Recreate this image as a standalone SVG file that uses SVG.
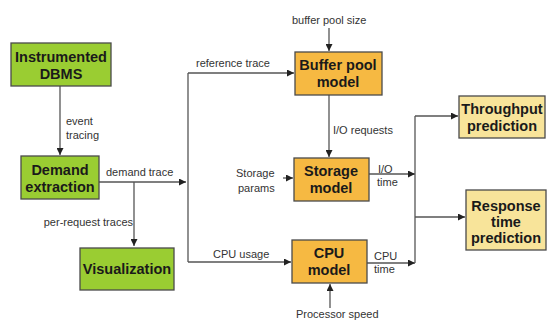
<svg xmlns="http://www.w3.org/2000/svg" width="547" height="321" viewBox="0 0 547 321">
<defs>
<marker id="ah" viewBox="0 0 10 10" refX="10" refY="5" markerWidth="7" markerHeight="7" markerUnits="userSpaceOnUse" orient="auto">
<path d="M0,0 L10,5 L0,10 z" fill="#222"/>
</marker>
<style>
.box{stroke:#4a4a4a;stroke-width:1.3}
.g{fill:#9acd32}
.o{fill:#f6b942}
.y{fill:#f8e49a}
.t{font-family:"Liberation Sans",Arial,sans-serif;font-weight:bold;font-size:14.5px;fill:#1a1a1a;text-anchor:middle}
.l{font-family:"Liberation Sans",Arial,sans-serif;font-size:11px;fill:#333}
.c{fill:none;stroke:#555;stroke-width:1.3}
.a{marker-end:url(#ah)}
</style>
</defs>
<rect width="547" height="321" fill="#fff"/>
<g id="connectors">
<path class="c a" d="M60,86 V155"/>
<path class="c a" d="M99,182 H186"/>
<path class="c a" d="M134,182 V246"/>
<path class="c" d="M188,73 V262"/>
<path class="c a" d="M188,73 H294"/>
<path class="c a" d="M188,262 H291"/>
<path class="c a" d="M329,28 V51"/>
<path class="c a" d="M329,95 V157"/>
<path class="c a" d="M283,178 H293"/>
<path class="c a" d="M369,174 H415"/>
<path class="c a" d="M367,263 H415"/>
<path class="c a" d="M330,308 V284"/>
<path class="c" d="M415,116 V263"/>
<path class="c a" d="M415,116 H458"/>
<path class="c a" d="M415,217 H465"/>
</g>
<g id="labels">
<text class="l" x="66" y="125">event</text>
<text class="l" x="66" y="139">tracing</text>
<text class="l" x="106" y="176">demand trace</text>
<text class="l" x="133" y="226" text-anchor="end">per-request traces</text>
<text class="l" x="196" y="67">reference trace</text>
<text class="l" x="213" y="258">CPU usage</text>
<text class="l" x="292" y="24">buffer pool size</text>
<text class="l" x="333" y="134">I/O requests</text>
<text class="l" x="236" y="177">Storage</text>
<text class="l" x="238" y="192">params</text>
<text class="l" x="378" y="173">I/O</text>
<text class="l" x="377" y="186">time</text>
<text class="l" x="374" y="260">CPU</text>
<text class="l" x="374" y="273">time</text>
<text class="l" x="296" y="318">Processor speed</text>
</g>
<g id="instrumented-dbms">
<rect class="box g" x="11" y="43" width="100" height="43"/>
<text class="t" x="61" y="62">Instrumented</text>
<text class="t" x="61" y="79">DBMS</text>
</g>
<g id="demand-extraction">
<rect class="box g" x="21" y="156" width="78" height="43"/>
<text class="t" x="60" y="175">Demand</text>
<text class="t" x="60" y="192">extraction</text>
</g>
<g id="visualization">
<rect class="box g" x="80" y="248" width="94" height="42"/>
<text class="t" x="127" y="274">Visualization</text>
</g>
<g id="buffer-pool-model">
<rect class="box o" x="295" y="52" width="87" height="43"/>
<text class="t" x="338" y="70">Buffer pool</text>
<text class="t" x="338" y="87">model</text>
</g>
<g id="storage-model">
<rect class="box o" x="294" y="158" width="75" height="43"/>
<text class="t" x="331" y="176">Storage</text>
<text class="t" x="331" y="193">model</text>
</g>
<g id="cpu-model">
<rect class="box o" x="292" y="240" width="75" height="43"/>
<text class="t" x="329" y="258">CPU</text>
<text class="t" x="329" y="275">model</text>
</g>
<g id="throughput-prediction">
<rect class="box y" x="459" y="96" width="86" height="42"/>
<text class="t" x="502" y="114">Throughput</text>
<text class="t" x="502" y="131">prediction</text>
</g>
<g id="response-time-prediction">
<rect class="box y" x="466" y="190" width="80" height="60"/>
<text class="t" x="506" y="211">Response</text>
<text class="t" x="506" y="227">time</text>
<text class="t" x="506" y="243">prediction</text>
</g>
</svg>
